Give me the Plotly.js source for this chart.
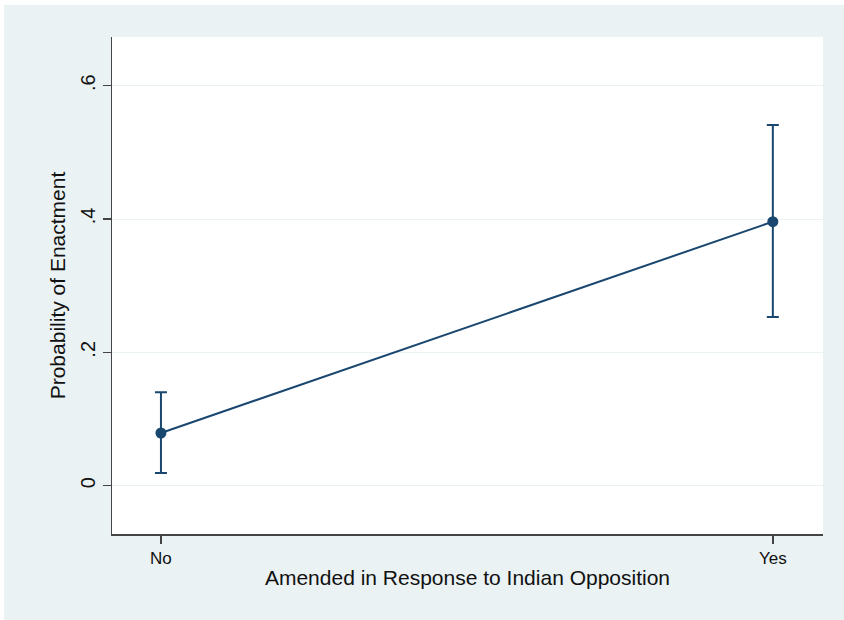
<!DOCTYPE html>
<html>
<head>
<meta charset="utf-8">
<script src="https://cdn.plot.ly/plotly-3.0.1.min.js"></script>
<style>
html,body{margin:0;padding:0;background:#ffffff;width:844px;height:620px;overflow:hidden;}
#chart{position:absolute;left:4px;top:5px;width:840px;height:615px;}
</style>
</head>
<body>
<div id="chart"></div>
<script>
const categories = ['No', 'Yes'];
const probability = [0.079, 0.396];
const ciLower = [0.019, 0.253];
const ciUpper = [0.140, 0.541];
const yTickVals = [0, 0.2, 0.4, 0.6];
const yTickText = ['0', '.2', '.4', '.6'];

const navy = '#1a476f';
const errPlus = ciUpper.map((u, i) => u - probability[i]);
const errMinus = probability.map((p, i) => p - ciLower[i]);

const trace = {
  x: categories,
  y: probability,
  type: 'scatter',
  mode: 'lines+markers',
  line: {color: navy, width: 2},
  marker: {color: navy, size: 11},
  error_y: {
    type: 'data',
    symmetric: false,
    array: errPlus,
    arrayminus: errMinus,
    color: navy,
    thickness: 2,
    width: 6
  },
  hoverinfo: 'skip'
};

const font = {family: '"Liberation Sans", Arial, Helvetica, sans-serif', color: '#111111'};

const layout = {
  width: 840,
  height: 615,
  margin: {l: 108, r: 21, t: 32, b: 86},
  paper_bgcolor: '#eaf2f3',
  plot_bgcolor: '#ffffff',
  font: font,
  showlegend: false,
  xaxis: {
    type: 'category',
    range: [-0.080, 1.082],
    showgrid: false,
    zeroline: false,
    showline: true,
    linecolor: '#444444',
    linewidth: 1.5,
    ticks: 'outside',
    ticklen: 8,
    tickwidth: 1.5,
    tickcolor: '#444444',
    tickfont: {size: 17, family: font.family, color: '#111111'},
    title: {text: 'Amended in Response to Indian Opposition', font: {size: 21, family: font.family, color: '#111111'}, standoff: 3}
  },
  yaxis: {
    range: [-0.0725, 0.673],
    tickvals: yTickVals,
    ticktext: yTickText,
    tickangle: -90,
    showgrid: true,
    gridcolor: '#eaf2f3',
    gridwidth: 1,
    zeroline: false,
    showline: true,
    linecolor: '#444444',
    linewidth: 1.5,
    ticks: 'outside',
    ticklen: 8,
    tickwidth: 1.5,
    tickcolor: '#444444',
    tickfont: {size: 20, family: font.family, color: '#111111'},
    title: {text: 'Probability of Enactment', font: {size: 21, family: font.family, color: '#111111'}, standoff: 5}
  }
};

Plotly.newPlot('chart', [trace], layout, {displayModeBar: false, staticPlot: true});
</script>
</body>
</html>
